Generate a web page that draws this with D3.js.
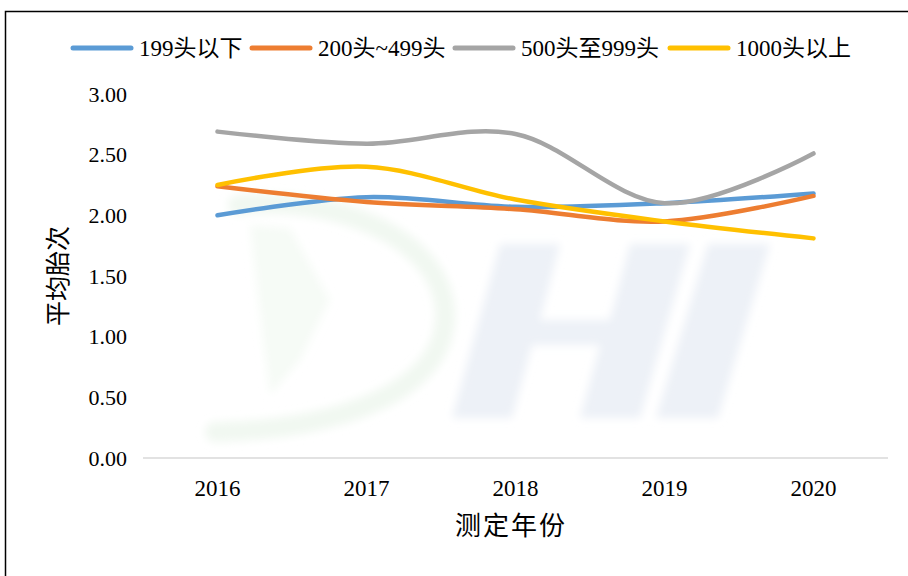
<!DOCTYPE html>
<html><head><meta charset="utf-8">
<script src="https://cdn.jsdelivr.net/npm/d3@7"></script>
<style>
html,body{margin:0;padding:0;background:#fff;}
</style></head>
<body><svg id="c" width="908" height="576"></svg>
<script>
const years = ["2016","2017","2018","2019","2020"];
const seriesNames = ["199头以下","200头~499头","500头至999头","1000头以上"];
const s199 = [2.00, 2.15, 2.07, 2.10, 2.18];
const s200 = [2.24, 2.11, 2.05, 1.95, 2.16];
const s500 = [2.69, 2.59, 2.67, 2.10, 2.51];
const s1000 = [2.25, 2.40, 2.13, 1.95, 1.81];
const yTicks = [0, 0.5, 1.0, 1.5, 2.0, 2.5, 3.0];
const colors = ["#5B9BD5","#ED7D31","#A5A5A5","#FFC000"];
const allSeries = [s199, s200, s500, s1000];
const FONT = "'Liberation Serif','Times New Roman','DejaVu Serif','Noto Sans CJK SC',serif";

const svg = d3.select("#c");
svg.append("rect").attr("x",5.5).attr("y",11.5).attr("width",920).attr("height",600)
  .attr("fill","none").attr("stroke","#000").attr("stroke-width",1.5);

const x = d3.scaleBand().domain(years).range([143, 888]);
const y = d3.scaleLinear().domain([0, 3]).range([458, 94]);

// faint watermark (logo shapes)
const defs = svg.append("defs");
defs.append("filter").attr("id","blur").append("feGaussianBlur").attr("stdDeviation",4);
const wm = svg.append("g").attr("filter","url(#blur)");
wm.append("path")
  .attr("d","M238,205 C330,195 440,235 445,310 C450,390 340,430 215,432")
  .attr("fill","none").attr("stroke","#f1f8f1").attr("stroke-width",20).attr("stroke-linecap","round");
wm.append("path")
  .attr("d","M250,225 L290,228 L330,300 L300,360 L270,395 L262,330 Z")
  .attr("fill","#f6fbf6");
// italic H
wm.append("path")
  .attr("d","M500,244 L560,244 L540,320 L610,320 L630,244 L690,244 L640,418 L580,418 L600,345 L532,345 L512,418 L452,418 Z")
  .attr("fill","#edf1f7");
// italic I
wm.append("path")
  .attr("d","M708,244 L770,244 L718,418 L656,418 Z")
  .attr("fill","#edf1f7");

svg.append("line").attr("x1",143).attr("x2",888).attr("y1",y(0)).attr("y2",y(0))
  .attr("stroke","#d9d9d9").attr("stroke-width",1.3);

const yAxis = d3.axisLeft(y).tickValues(yTicks).tickFormat(d3.format(".2f")).tickSize(0).tickPadding(16);
const gy = svg.append("g").attr("transform","translate(143,0)").call(yAxis);
gy.select(".domain").remove();
gy.selectAll("text").style("font-family",FONT).style("font-size","22px").attr("fill","#000");

const xAxis = d3.axisBottom(x).tickSize(0).tickPadding(22);
const gx = svg.append("g").attr("transform",`translate(0,${y(0)})`).call(xAxis);
gx.select(".domain").remove();
gx.selectAll("text").style("font-family",FONT).style("font-size","23px").attr("fill","#000");

svg.append("text").attr("x",511).attr("y",535).attr("text-anchor","middle")
  .style("font-family",FONT).style("font-size","26px").style("letter-spacing","2px").text("测定年份");
svg.append("text").attr("transform","translate(67,276) rotate(-90)").attr("text-anchor","middle")
  .style("font-family",FONT).style("font-size","25px").text("平均胎次");

const line = d3.line().x((d,i)=>x(years[i])+x.bandwidth()/2).y(d=>y(d)).curve(d3.curveCardinal.tension(0));
allSeries.forEach((s,k)=>{
  svg.append("path").datum(s).attr("d",line).attr("fill","none")
    .attr("stroke",colors[k]).attr("stroke-width",4.5).attr("stroke-linecap","round").attr("stroke-linejoin","round");
});

const legX = [73, 252, 455, 670];
const leg = svg.append("g");
seriesNames.forEach((n,k)=>{
  leg.append("line").attr("x1",legX[k]).attr("x2",legX[k]+58).attr("y1",48).attr("y2",48)
    .attr("stroke",colors[k]).attr("stroke-width",5).attr("stroke-linecap","round");
  leg.append("text").attr("x",legX[k]+66).attr("y",56).style("font-family",FONT).style("font-size","23px").text(n);
});
</script></body></html>
